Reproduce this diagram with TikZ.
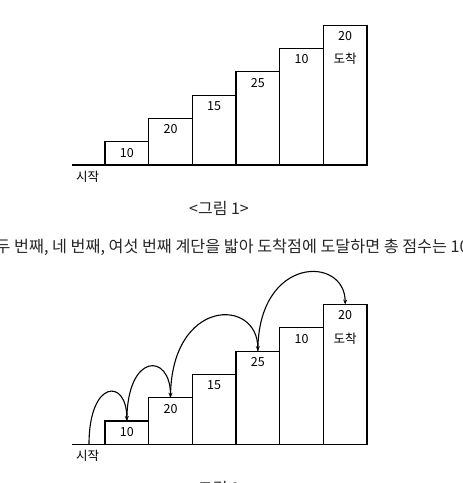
\documentclass[tikz,border=0pt]{standalone}
\usepackage{fontspec}
\setmainfont{Noto Sans CJK KR}
\usetikzlibrary{arrows.meta,calc}
\begin{document}
\begin{tikzpicture}[x=1pt,y=-1pt,
  stair/.style={draw=black,line width=1.2pt,minimum width=43.7pt,inner sep=0pt,outer sep=0pt,anchor=south},
  num/.style={font=\fontsize{12.5}{12.5}\selectfont,inner sep=0pt},
  captxt/.style={font=\fontsize{16}{16}\selectfont,inner sep=0pt,text=black!85},
  hop/.style={line width=1.1pt,-{Stealth[length=5pt,width=4pt]}}]
\useasboundingbox (0,0) rectangle (463,483);
\clip (0,0) rectangle (463,483);
\foreach \dy/\f in {0/a,279.3/b}{
  \draw[line width=1.2pt] (72,165+\dy) -- (367,165+\dy);
  \foreach \i/\v in {1/10,2/20,3/15,4/25,5/10,6/20}{
    \node[stair,minimum height={23.3*\i}] (\f\i) at ({105+43.67*(\i-1)+21.83},165+\dy) {};
    \node[num] (\f l\i) at ($(\f\i.north)+(0,11)$) {\v};
  }
  \node[num] (\f end) at ($(\f6.north)+(0,34)$) {도착};
  \node[num] (\f start) at (87.7,176.7+\dy) {시작};
}
\node[captxt] (cap1) at (219,208) {<그림 1>};
\node[captxt,anchor=west,font=\fontsize{16.2}{16.2}\selectfont] (sent) at (-4.5,247.5) {두 번째, 네 번째, 여섯 번째 계단을 밟아 도착점에 도달하면 총 점수는 10};
\node[captxt] (cap2) at (219,488) {<그림 2>};
\coordinate (st) at (89,444.3);
\draw[hop] (st) .. controls +(0,-65) and +(0,-43) .. (b1.north);
\draw[hop] (b1.north) .. controls +(0,-69) and +(0,-45) .. (b2.north);
\draw[hop] (b2.north) .. controls +(0,-100) and +(0,-54) .. (b4.north);
\draw[hop] (b4.north) .. controls +(0,-96) and +(0,-49) .. (b6.north);
\end{tikzpicture}
\end{document}
